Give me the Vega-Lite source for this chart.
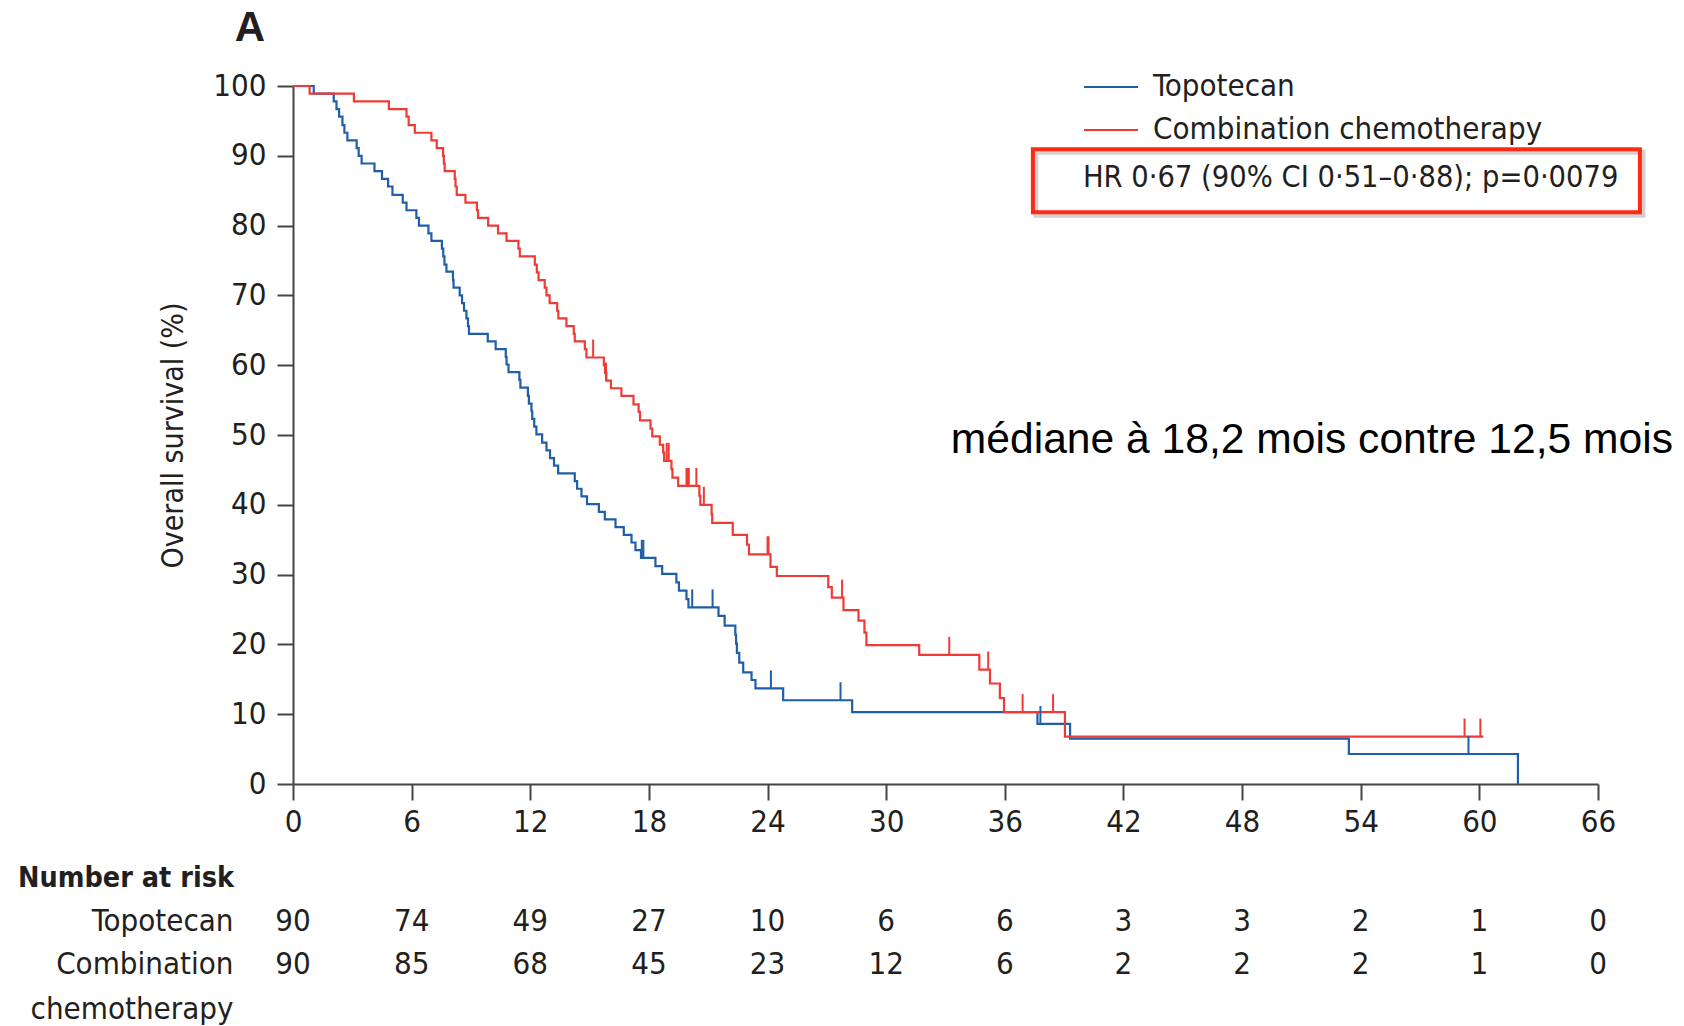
{
  "$schema": "https://vega.github.io/schema/vega-lite/v6.json",
  "background": "white",
  "padding": {"left": 18, "top": 7, "right": 5, "bottom": 5},
  "spacing": 27,
  "config": {
    "font": "'DejaVu Sans Condensed', 'Liberation Sans Narrow', sans-serif",
    "view": {"stroke": null},
    "axis": {"grid": false, "domainColor": "#444444", "tickColor": "#444444", "domainWidth": 2, "tickWidth": 2, "labelColor": "#231f20", "titleColor": "#231f20", "labelFontSize": 31, "titleFontSize": 30, "titleFontWeight": "normal", "labelLimit": 500}
  },
  "datasets": {
    "km": [
      {"g":"Topotecan","t":0,"s":100},{"g":"Topotecan","t":1.05,"s":98.9},{"g":"Topotecan","t":2.06,"s":97.8},{"g":"Topotecan","t":2.2,"s":96.7},{"g":"Topotecan","t":2.33,"s":95.6},{"g":"Topotecan","t":2.5,"s":94.4},{"g":"Topotecan","t":2.6,"s":93.3},{"g":"Topotecan","t":2.75,"s":92.2},{"g":"Topotecan","t":3.22,"s":91.1},{"g":"Topotecan","t":3.32,"s":90.0},{"g":"Topotecan","t":3.47,"s":88.9},{"g":"Topotecan","t":4.12,"s":87.8},{"g":"Topotecan","t":4.5,"s":86.7},{"g":"Topotecan","t":4.81,"s":85.6},{"g":"Topotecan","t":5.03,"s":84.4},{"g":"Topotecan","t":5.55,"s":83.3},{"g":"Topotecan","t":5.74,"s":82.2},{"g":"Topotecan","t":6.24,"s":81.1},{"g":"Topotecan","t":6.37,"s":80.0},{"g":"Topotecan","t":6.85,"s":78.9},{"g":"Topotecan","t":7.0,"s":77.8},{"g":"Topotecan","t":7.53,"s":76.7},{"g":"Topotecan","t":7.6,"s":75.6},{"g":"Topotecan","t":7.66,"s":74.4},{"g":"Topotecan","t":7.76,"s":73.4},{"g":"Topotecan","t":8.09,"s":72.2},{"g":"Topotecan","t":8.12,"s":71.1},{"g":"Topotecan","t":8.43,"s":70.0},{"g":"Topotecan","t":8.55,"s":68.9},{"g":"Topotecan","t":8.65,"s":67.8},{"g":"Topotecan","t":8.77,"s":66.7},{"g":"Topotecan","t":8.85,"s":65.6},{"g":"Topotecan","t":8.9,"s":64.5},{"g":"Topotecan","t":9.85,"s":63.4},{"g":"Topotecan","t":10.25,"s":62.3},{"g":"Topotecan","t":10.76,"s":61.2},{"g":"Topotecan","t":10.8,"s":60.1},{"g":"Topotecan","t":10.9,"s":59.0},{"g":"Topotecan","t":11.45,"s":57.9},{"g":"Topotecan","t":11.5,"s":56.8},{"g":"Topotecan","t":11.88,"s":55.6},{"g":"Topotecan","t":11.93,"s":54.5},{"g":"Topotecan","t":12.06,"s":53.4},{"g":"Topotecan","t":12.1,"s":52.3},{"g":"Topotecan","t":12.2,"s":51.2},{"g":"Topotecan","t":12.31,"s":50.1},{"g":"Topotecan","t":12.6,"s":48.9},{"g":"Topotecan","t":12.82,"s":47.8},{"g":"Topotecan","t":13.0,"s":46.7},{"g":"Topotecan","t":13.2,"s":45.6},{"g":"Topotecan","t":13.41,"s":44.5},{"g":"Topotecan","t":14.25,"s":43.4},{"g":"Topotecan","t":14.37,"s":42.3},{"g":"Topotecan","t":14.59,"s":41.2},{"g":"Topotecan","t":14.87,"s":40.1},{"g":"Topotecan","t":15.47,"s":39.0},{"g":"Topotecan","t":15.77,"s":37.9},{"g":"Topotecan","t":16.31,"s":36.8},{"g":"Topotecan","t":16.73,"s":35.7},{"g":"Topotecan","t":17.12,"s":34.6},{"g":"Topotecan","t":17.32,"s":33.5},{"g":"Topotecan","t":17.6,"s":32.4},{"g":"Topotecan","t":18.33,"s":31.2},{"g":"Topotecan","t":18.67,"s":30.1},{"g":"Topotecan","t":19.39,"s":28.9},{"g":"Topotecan","t":19.52,"s":27.7},{"g":"Topotecan","t":19.9,"s":26.5},{"g":"Topotecan","t":20.0,"s":25.3},{"g":"Topotecan","t":21.52,"s":24.1},{"g":"Topotecan","t":21.83,"s":22.7},{"g":"Topotecan","t":22.37,"s":21.4},{"g":"Topotecan","t":22.41,"s":20.1},{"g":"Topotecan","t":22.45,"s":18.8},{"g":"Topotecan","t":22.57,"s":17.4},{"g":"Topotecan","t":22.77,"s":16.0},{"g":"Topotecan","t":23.19,"s":14.9},{"g":"Topotecan","t":23.39,"s":13.7},{"g":"Topotecan","t":24.79,"s":12.0},{"g":"Topotecan","t":28.28,"s":10.3},{"g":"Topotecan","t":37.65,"s":8.6},{"g":"Topotecan","t":39.3,"s":6.5},{"g":"Topotecan","t":53.4,"s":4.3},{"g":"Topotecan","t":61.95,"s":0},
      {"g":"Combination chemotherapy","t":0,"s":100},{"g":"Combination chemotherapy","t":0.84,"s":98.9},{"g":"Combination chemotherapy","t":3.08,"s":97.8},{"g":"Combination chemotherapy","t":4.85,"s":96.7},{"g":"Combination chemotherapy","t":5.74,"s":95.6},{"g":"Combination chemotherapy","t":5.85,"s":94.4},{"g":"Combination chemotherapy","t":6.16,"s":93.3},{"g":"Combination chemotherapy","t":7.0,"s":92.2},{"g":"Combination chemotherapy","t":7.27,"s":91.1},{"g":"Combination chemotherapy","t":7.59,"s":90.0},{"g":"Combination chemotherapy","t":7.63,"s":88.9},{"g":"Combination chemotherapy","t":7.67,"s":87.8},{"g":"Combination chemotherapy","t":8.18,"s":86.7},{"g":"Combination chemotherapy","t":8.22,"s":85.6},{"g":"Combination chemotherapy","t":8.28,"s":84.4},{"g":"Combination chemotherapy","t":8.72,"s":83.3},{"g":"Combination chemotherapy","t":9.3,"s":82.2},{"g":"Combination chemotherapy","t":9.36,"s":81.1},{"g":"Combination chemotherapy","t":9.87,"s":80.0},{"g":"Combination chemotherapy","t":10.37,"s":78.9},{"g":"Combination chemotherapy","t":10.8,"s":77.8},{"g":"Combination chemotherapy","t":11.4,"s":76.7},{"g":"Combination chemotherapy","t":11.47,"s":75.6},{"g":"Combination chemotherapy","t":12.23,"s":74.4},{"g":"Combination chemotherapy","t":12.33,"s":73.3},{"g":"Combination chemotherapy","t":12.42,"s":72.2},{"g":"Combination chemotherapy","t":12.73,"s":71.1},{"g":"Combination chemotherapy","t":12.82,"s":70.0},{"g":"Combination chemotherapy","t":12.98,"s":68.9},{"g":"Combination chemotherapy","t":13.36,"s":67.8},{"g":"Combination chemotherapy","t":13.42,"s":66.7},{"g":"Combination chemotherapy","t":13.83,"s":65.6},{"g":"Combination chemotherapy","t":14.2,"s":64.5},{"g":"Combination chemotherapy","t":14.25,"s":63.4},{"g":"Combination chemotherapy","t":14.76,"s":62.3},{"g":"Combination chemotherapy","t":14.84,"s":61.1},{"g":"Combination chemotherapy","t":15.72,"s":60.0},{"g":"Combination chemotherapy","t":15.78,"s":58.9},{"g":"Combination chemotherapy","t":15.85,"s":57.8},{"g":"Combination chemotherapy","t":16.08,"s":56.7},{"g":"Combination chemotherapy","t":16.61,"s":55.6},{"g":"Combination chemotherapy","t":17.22,"s":54.4},{"g":"Combination chemotherapy","t":17.48,"s":53.3},{"g":"Combination chemotherapy","t":17.55,"s":52.1},{"g":"Combination chemotherapy","t":18.08,"s":50.9},{"g":"Combination chemotherapy","t":18.17,"s":49.8},{"g":"Combination chemotherapy","t":18.55,"s":48.6},{"g":"Combination chemotherapy","t":18.72,"s":47.5},{"g":"Combination chemotherapy","t":18.77,"s":46.3},{"g":"Combination chemotherapy","t":19.14,"s":45.1},{"g":"Combination chemotherapy","t":19.19,"s":43.9},{"g":"Combination chemotherapy","t":19.48,"s":42.7},{"g":"Combination chemotherapy","t":20.55,"s":41.3},{"g":"Combination chemotherapy","t":20.6,"s":40.0},{"g":"Combination chemotherapy","t":21.17,"s":38.7},{"g":"Combination chemotherapy","t":21.2,"s":37.4},{"g":"Combination chemotherapy","t":22.24,"s":35.7},{"g":"Combination chemotherapy","t":22.96,"s":34.3},{"g":"Combination chemotherapy","t":23.06,"s":32.9},{"g":"Combination chemotherapy","t":24.15,"s":31.1},{"g":"Combination chemotherapy","t":24.47,"s":29.8},{"g":"Combination chemotherapy","t":27.07,"s":28.2},{"g":"Combination chemotherapy","t":27.25,"s":26.7},{"g":"Combination chemotherapy","t":27.84,"s":24.9},{"g":"Combination chemotherapy","t":28.6,"s":23.4},{"g":"Combination chemotherapy","t":28.9,"s":21.7},{"g":"Combination chemotherapy","t":29.0,"s":19.9},{"g":"Combination chemotherapy","t":31.67,"s":18.5},{"g":"Combination chemotherapy","t":34.71,"s":16.4},{"g":"Combination chemotherapy","t":35.25,"s":14.4},{"g":"Combination chemotherapy","t":35.75,"s":12.3},{"g":"Combination chemotherapy","t":35.96,"s":10.3},{"g":"Combination chemotherapy","t":39.04,"s":6.8},{"g":"Combination chemotherapy","t":60.2,"s":6.8}
    ],
    "censor": [
      {"g":"Topotecan","t":17.64,"s":32.4},{"g":"Topotecan","t":17.72,"s":32.4},{"g":"Topotecan","t":20.19,"s":25.3},{"g":"Topotecan","t":21.22,"s":25.3},{"g":"Topotecan","t":24.17,"s":13.7},{"g":"Topotecan","t":27.69,"s":12.0},{"g":"Topotecan","t":37.8,"s":8.6},{"g":"Topotecan","t":59.45,"s":4.3},
      {"g":"Combination chemotherapy","t":15.18,"s":61.1},{"g":"Combination chemotherapy","t":15.83,"s":57.8},{"g":"Combination chemotherapy","t":18.9,"s":46.3},{"g":"Combination chemotherapy","t":19.0,"s":46.3},{"g":"Combination chemotherapy","t":19.9,"s":42.7},{"g":"Combination chemotherapy","t":19.96,"s":42.7},{"g":"Combination chemotherapy","t":20.02,"s":42.7},{"g":"Combination chemotherapy","t":20.4,"s":42.7},{"g":"Combination chemotherapy","t":20.78,"s":40.0},{"g":"Combination chemotherapy","t":24.0,"s":32.9},{"g":"Combination chemotherapy","t":24.05,"s":32.9},{"g":"Combination chemotherapy","t":27.77,"s":26.7},{"g":"Combination chemotherapy","t":33.19,"s":18.5},{"g":"Combination chemotherapy","t":35.16,"s":16.4},{"g":"Combination chemotherapy","t":36.9,"s":10.3},{"g":"Combination chemotherapy","t":38.44,"s":10.3},{"g":"Combination chemotherapy","t":59.25,"s":6.8},{"g":"Combination chemotherapy","t":60.05,"s":6.8}
    ],
    "box": [{"x1": 37.42, "x2": 68.12, "y1": 90.93, "y2": 81.91}],
    "hr": [{"t": 39.95, "s": 85.6, "label": "HR 0·67 (90% CI 0·51–0·88); p=0·0079"}],
    "note": [{"t": 33.27, "s": 47.4, "label": "médiane à 18,2 mois contre 12,5 mois"}],
    "risk": [
      {"grp":"Topotecan","t":0,"n":90},{"grp":"Topotecan","t":6,"n":74},{"grp":"Topotecan","t":12,"n":49},{"grp":"Topotecan","t":18,"n":27},{"grp":"Topotecan","t":24,"n":10},{"grp":"Topotecan","t":30,"n":6},{"grp":"Topotecan","t":36,"n":6},{"grp":"Topotecan","t":42,"n":3},{"grp":"Topotecan","t":48,"n":3},{"grp":"Topotecan","t":54,"n":2},{"grp":"Topotecan","t":60,"n":1},{"grp":"Topotecan","t":66,"n":0},
      {"grp":"Combination","t":0,"n":90},{"grp":"Combination","t":6,"n":85},{"grp":"Combination","t":12,"n":68},{"grp":"Combination","t":18,"n":45},{"grp":"Combination","t":24,"n":23},{"grp":"Combination","t":30,"n":12},{"grp":"Combination","t":36,"n":6},{"grp":"Combination","t":42,"n":2},{"grp":"Combination","t":48,"n":2},{"grp":"Combination","t":54,"n":2},{"grp":"Combination","t":60,"n":1},{"grp":"Combination","t":66,"n":0}
    ]
  },
  "vconcat": [
    {
      "width": 1305,
      "height": 698,
      "title": {"text": "A", "anchor": "start", "frame": "bounds", "font": "'Liberation Sans', Arial, sans-serif", "fontSize": 42, "fontWeight": "bold", "color": "#231f20", "dx": 76, "offset": 20},
      "layer": [
        {
          "data": {"name": "km"},
          "mark": {"type": "line", "interpolate": "step-after", "strokeWidth": 2.2},
          "encoding": {
            "x": {"field": "t", "type": "quantitative", "scale": {"domain": [0, 66], "nice": false},
                  "axis": {"title": null, "values": [0,6,12,18,24,30,36,42,48,54,60,66], "tickSize": 16, "labelPadding": 7, "labelFlush": false}},
            "y": {"field": "s", "type": "quantitative", "scale": {"domain": [0, 100], "nice": false},
                  "axis": {"title": "Overall survival (%)", "values": [0,10,20,30,40,50,60,70,80,90,100], "tickSize": 16, "labelPadding": 11, "titlePadding": 24}},
            "color": {"field": "g", "type": "nominal",
                      "scale": {"domain": ["Topotecan", "Combination chemotherapy"], "range": ["#1f5ea8", "#ef3b36"]},
                      "legend": {"orient": "none", "legendX": 790, "legendY": -27, "title": null, "symbolType": "stroke", "symbolSize": 2916, "symbolStrokeWidth": 2, "labelFontSize": 31, "labelLimit": 600, "labelColor": "#231f20", "labelOffset": 14, "rowPadding": -11, "padding": 0}}
          }
        },
        {
          "data": {"name": "censor"},
          "mark": {"type": "tick", "orient": "vertical", "size": 18, "thickness": 2, "yOffset": -9, "opacity": 1},
          "encoding": {
            "x": {"field": "t", "type": "quantitative"},
            "y": {"field": "s", "type": "quantitative"},
            "color": {"field": "g", "type": "nominal"}
          }
        },
        {
          "data": {"name": "box"},
          "mark": {"type": "rect", "fillOpacity": 0, "stroke": "#9a9a9a", "strokeOpacity": 0.45, "strokeWidth": 5, "xOffset": 3, "yOffset": 3, "x2Offset": 3, "y2Offset": 3},
          "encoding": {
            "x": {"field": "x1", "type": "quantitative"}, "x2": {"field": "x2"},
            "y": {"field": "y1", "type": "quantitative"}, "y2": {"field": "y2"}
          }
        },
        {
          "data": {"name": "box"},
          "mark": {"type": "rect", "fillOpacity": 0, "stroke": "#ff2a14", "strokeWidth": 4},
          "encoding": {
            "x": {"field": "x1", "type": "quantitative"}, "x2": {"field": "x2"},
            "y": {"field": "y1", "type": "quantitative"}, "y2": {"field": "y2"}
          }
        },
        {
          "data": {"name": "hr"},
          "mark": {"type": "text", "align": "left", "baseline": "alphabetic", "fontSize": 30.5, "color": "#231f20"},
          "encoding": {
            "x": {"field": "t", "type": "quantitative"},
            "y": {"field": "s", "type": "quantitative"},
            "text": {"field": "label"}
          }
        },
        {
          "data": {"name": "note"},
          "mark": {"type": "text", "align": "left", "baseline": "alphabetic", "fontSize": 42.6, "font": "'Liberation Sans', Arial, sans-serif", "color": "#000000"},
          "encoding": {
            "x": {"field": "t", "type": "quantitative"},
            "y": {"field": "s", "type": "quantitative"},
            "text": {"field": "label"}
          }
        }
      ]
    },
    {
      "width": 1305,
      "height": 86,
      "title": {"text": "Number at risk", "anchor": "start", "frame": "bounds", "fontSize": 28.5, "fontWeight": "bold", "color": "#231f20", "dx": -12, "offset": 13},
      "data": {"name": "risk"},
      "mark": {"type": "text", "align": "center", "baseline": "alphabetic", "fontSize": 31, "color": "#231f20"},
      "encoding": {
        "x": {"field": "t", "type": "quantitative", "scale": {"domain": [0, 66], "nice": false}, "axis": null},
        "y": {"field": "grp", "type": "nominal", "sort": ["Topotecan", "Combination"],
              "axis": {"title": null, "domain": false, "ticks": false, "labelPadding": 60, "labelAlign": "right", "labelBaseline": "alphabetic", "labelLineHeight": 45, "labelFontSize": 31,
                       "labelExpr": "datum.value == 'Combination' ? ['Combination', 'chemotherapy'] : datum.value"}},
        "text": {"field": "n", "type": "quantitative"}
      }
    }
  ]
}
